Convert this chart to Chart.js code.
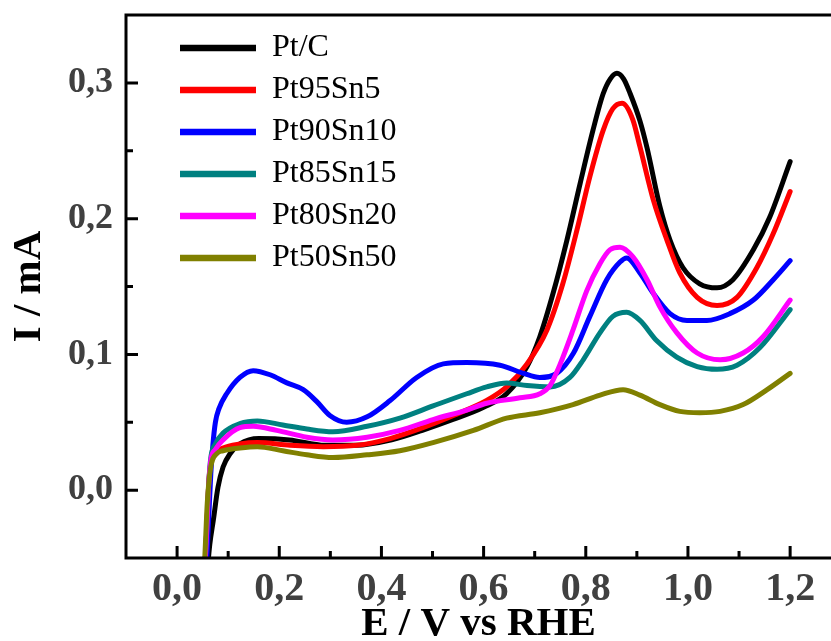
<!DOCTYPE html>
<html>
<head>
<meta charset="utf-8">
<script src="https://cdn.jsdelivr.net/npm/chart.js@4.4.0/dist/chart.umd.min.js"></script>
<style>
html,body{margin:0;padding:0;background:#fff;overflow:hidden}
canvas{display:block}
</style>
</head>
<body>
<canvas id="c" width="831" height="641"></canvas>
<script>
const seriesNames = ['Pt/C', 'Pt95Sn5', 'Pt90Sn10', 'Pt85Sn15', 'Pt80Sn20', 'Pt50Sn50'];
const seriesColors = ['#000000', '#ff0000', '#0000ff', '#008080', '#ff00ff', '#808000'];

const ptC_E = [0.059, 0.064, 0.071, 0.080, 0.090, 0.104, 0.123, 0.16, 0.22, 0.29, 0.35, 0.42, 0.48, 0.54, 0.60, 0.645, 0.685, 0.710, 0.736, 0.763, 0.789, 0.814, 0.834, 0.848, 0.861, 0.874, 0.887, 0.906, 0.920, 0.945, 0.965, 0.990, 1.023, 1.057, 1.088, 1.128, 1.160, 1.200];
const ptC_I = [-0.06, -0.040, -0.022, 0.002, 0.017, 0.027, 0.034, 0.038, 0.037, 0.033, 0.033, 0.037, 0.044, 0.052, 0.061, 0.071, 0.091, 0.113, 0.145, 0.184, 0.226, 0.265, 0.292, 0.303, 0.307, 0.303, 0.292, 0.272, 0.252, 0.209, 0.184, 0.164, 0.152, 0.149, 0.155, 0.177, 0.201, 0.242];

const pt95_E = [0.054, 0.058, 0.062, 0.066, 0.072, 0.090, 0.123, 0.157, 0.221, 0.286, 0.352, 0.417, 0.481, 0.541, 0.606, 0.645, 0.685, 0.724, 0.755, 0.783, 0.808, 0.834, 0.853, 0.871, 0.892, 0.906, 0.932, 0.959, 0.984, 1.018, 1.057, 1.096, 1.135, 1.167, 1.200];
const pt95_I = [-0.06, -0.030, 0.005, 0.020, 0.026, 0.031, 0.034, 0.035, 0.033, 0.032, 0.033, 0.038, 0.046, 0.055, 0.066, 0.076, 0.093, 0.118, 0.152, 0.192, 0.231, 0.265, 0.281, 0.285, 0.273, 0.253, 0.214, 0.184, 0.160, 0.142, 0.136, 0.142, 0.164, 0.189, 0.220];

const pt90_E = [0.057, 0.062, 0.066, 0.070, 0.075, 0.082, 0.097, 0.123, 0.149, 0.182, 0.215, 0.247, 0.274, 0.299, 0.332, 0.372, 0.417, 0.469, 0.521, 0.567, 0.632, 0.678, 0.710, 0.743, 0.776, 0.808, 0.841, 0.867, 0.880, 0.906, 0.932, 0.965, 0.998, 1.037, 1.082, 1.128, 1.167, 1.200];
const pt90_I = [-0.06, -0.020, 0.012, 0.033, 0.050, 0.060, 0.071, 0.083, 0.088, 0.085, 0.079, 0.074, 0.065, 0.055, 0.050, 0.054, 0.066, 0.083, 0.093, 0.094, 0.092, 0.086, 0.083, 0.086, 0.101, 0.128, 0.155, 0.168, 0.171, 0.160, 0.145, 0.130, 0.125, 0.125, 0.130, 0.140, 0.155, 0.169];

const pt85_E = [0.054, 0.058, 0.062, 0.066, 0.075, 0.090, 0.123, 0.157, 0.207, 0.254, 0.305, 0.372, 0.436, 0.501, 0.567, 0.606, 0.645, 0.685, 0.730, 0.769, 0.795, 0.828, 0.853, 0.880, 0.906, 0.939, 0.978, 1.018, 1.057, 1.096, 1.141, 1.200];
const pt85_I = [-0.06, -0.030, 0.005, 0.024, 0.034, 0.042, 0.049, 0.051, 0.048, 0.045, 0.043, 0.047, 0.053, 0.062, 0.071, 0.076, 0.079, 0.077, 0.076, 0.083, 0.096, 0.116, 0.128, 0.131, 0.125, 0.110, 0.098, 0.091, 0.089, 0.092, 0.105, 0.133];

const pt80_E = [0.054, 0.058, 0.062, 0.066, 0.075, 0.090, 0.123, 0.149, 0.195, 0.254, 0.305, 0.372, 0.436, 0.501, 0.567, 0.606, 0.671, 0.710, 0.730, 0.750, 0.775, 0.802, 0.828, 0.847, 0.867, 0.892, 0.920, 0.945, 0.978, 1.018, 1.063, 1.108, 1.147, 1.200];
const pt80_I = [-0.06, -0.030, 0.005, 0.022, 0.030, 0.037, 0.046, 0.047, 0.044, 0.039, 0.037, 0.039, 0.044, 0.052, 0.059, 0.064, 0.068, 0.071, 0.077, 0.093, 0.118, 0.147, 0.167, 0.177, 0.179, 0.172, 0.155, 0.135, 0.116, 0.101, 0.096, 0.101, 0.113, 0.140];

const pt50_E = [0.053, 0.056, 0.059, 0.065, 0.078, 0.090, 0.123, 0.157, 0.207, 0.254, 0.305, 0.372, 0.436, 0.501, 0.580, 0.645, 0.710, 0.775, 0.828, 0.873, 0.906, 0.945, 0.984, 1.023, 1.063, 1.108, 1.155, 1.200];
const pt50_I = [-0.06, -0.035, -0.010, 0.015, 0.027, 0.029, 0.031, 0.032, 0.029, 0.026, 0.024, 0.026, 0.029, 0.035, 0.044, 0.053, 0.057, 0.063, 0.070, 0.074, 0.070, 0.063, 0.058, 0.057, 0.058, 0.063, 0.074, 0.086];

const xTickValues = [0.0, 0.2, 0.4, 0.6, 0.8, 1.0, 1.2];
const xMinorTicks = [0.1, 0.3, 0.5, 0.7, 0.9, 1.1];
const yTickValues = [0.0, 0.1, 0.2, 0.3];
const yMinorTicks = [0.05, 0.15, 0.25];

const seriesE = [ptC_E, pt95_E, pt90_E, pt85_E, pt80_E, pt50_E];
const seriesI = [ptC_I, pt95_I, pt90_I, pt85_I, pt80_I, pt50_I];

const datasets = seriesNames.map((name, k) => ({
  label: name,
  data: seriesE[k].map((e, i) => ({x: e, y: seriesI[k][i]})),
  borderColor: seriesColors[k],
  backgroundColor: seriesColors[k],
  borderWidth: 5,
  borderCapStyle: 'round',
  borderJoinStyle: 'round',
  pointRadius: 0,
  cubicInterpolationMode: 'monotone',
  fill: false,
  clip: 0,
  order: seriesNames.length - k
}));

const fmt = v => Number(v).toFixed(1).replace('.', ',');
const serif = "'Liberation Serif', 'Times New Roman', serif";

const framePlugin = {
  id: 'frame',
  afterLayout(chart) {
    const lg = chart.legend;
    const ca = chart.chartArea;
    if (lg && ca) {
      const pad = lg.options.labels.padding;
      lg.left = ca.left + 54 - pad;
      lg.top = ca.top + 17 - pad;
      lg.right = lg.left + 400;
      lg.bottom = lg.top + 400;
    }
  },
  afterDatasetsDraw(chart) {
    const {ctx, chartArea: ca, scales: {x, y}} = chart;
    ctx.save();
    ctx.strokeStyle = '#000';
    ctx.lineWidth = 3;
    ctx.lineCap = 'butt';
    ctx.beginPath();
    ctx.moveTo(ca.left, ca.bottom + 1.5);
    ctx.lineTo(ca.left, ca.top - 1.5);
    ctx.moveTo(ca.left - 1.5, ca.top);
    ctx.lineTo(ca.right + 2, ca.top);
    ctx.moveTo(ca.left - 1.5, ca.bottom);
    ctx.lineTo(ca.right + 2, ca.bottom);
    xTickValues.forEach(v => { const p = x.getPixelForValue(v); ctx.moveTo(p, ca.bottom); ctx.lineTo(p, ca.bottom - 12); });
    xMinorTicks.forEach(v => { const p = x.getPixelForValue(v); ctx.moveTo(p, ca.bottom); ctx.lineTo(p, ca.bottom - 7); });
    yTickValues.forEach(v => { const p = y.getPixelForValue(v); ctx.moveTo(ca.left, p); ctx.lineTo(ca.left + 12, p); });
    yMinorTicks.forEach(v => { const p = y.getPixelForValue(v); ctx.moveTo(ca.left, p); ctx.lineTo(ca.left + 7, p); });
    ctx.stroke();
    ctx.restore();
  }
};

new Chart(document.getElementById('c'), {
  type: 'line',
  data: { datasets },
  plugins: [framePlugin],
  options: {
    responsive: false,
    animation: false,
    devicePixelRatio: 1,
    layout: { padding: { left: 0, top: 15, right: 0, bottom: 0 } },
    plugins: {
      tooltip: { enabled: false },
      legend: {
        position: 'chartArea',
        align: 'start',
        labels: {
          usePointStyle: true,
          pointStyle: 'line',
          pointStyleWidth: 76,
          padding: 10,
          color: '#000',
          font: { family: serif, size: 32, weight: 'normal' },
          generateLabels: chart => Chart.defaults.plugins.legend.labels.generateLabels(chart).map(l => Object.assign(l, { lineWidth: 6.5 })),
          sort: (a, b) => a.datasetIndex - b.datasetIndex
        }
      }
    },
    scales: {
      x: {
        type: 'linear',
        min: -0.1,
        max: 1.28,
        grid: { display: false, drawTicks: false },
        border: { display: false },
        afterBuildTicks: s => { s.ticks = xTickValues.map(v => ({ value: v })); },
        afterFit: s => { s.height = 83; s.paddingLeft = 0; s.paddingRight = 0; },
        ticks: {
          autoSkip: false,
          maxRotation: 0,
          padding: 8,
          color: '#404040',
          font: { family: serif, size: 40, weight: 'bold' },
          callback: v => fmt(v)
        },
        title: {
          display: true,
          text: 'E / V vs RHE',
          color: '#000',
          padding: { top: 0, bottom: 0 },
          font: { family: serif, size: 41, weight: 'bold', lineHeight: 0.82 }
        }
      },
      y: {
        type: 'linear',
        min: -0.05,
        max: 0.35,
        grid: { display: false, drawTicks: false },
        border: { display: false },
        afterBuildTicks: s => { s.ticks = yTickValues.map(v => ({ value: v })); },
        afterFit: s => { s.width = 126; s.paddingTop = 0; s.paddingBottom = 0; },
        ticks: {
          padding: 13,
          color: '#404040',
          font: { family: serif, size: 36, weight: 'bold' },
          callback: v => fmt(v)
        },
        title: {
          display: true,
          text: 'I / mA',
          color: '#000',
          padding: { top: 9, bottom: 0 },
          font: { family: serif, size: 41, weight: 'bold', lineHeight: 1 }
        }
      }
    }
  }
});
</script>
</body>
</html>
